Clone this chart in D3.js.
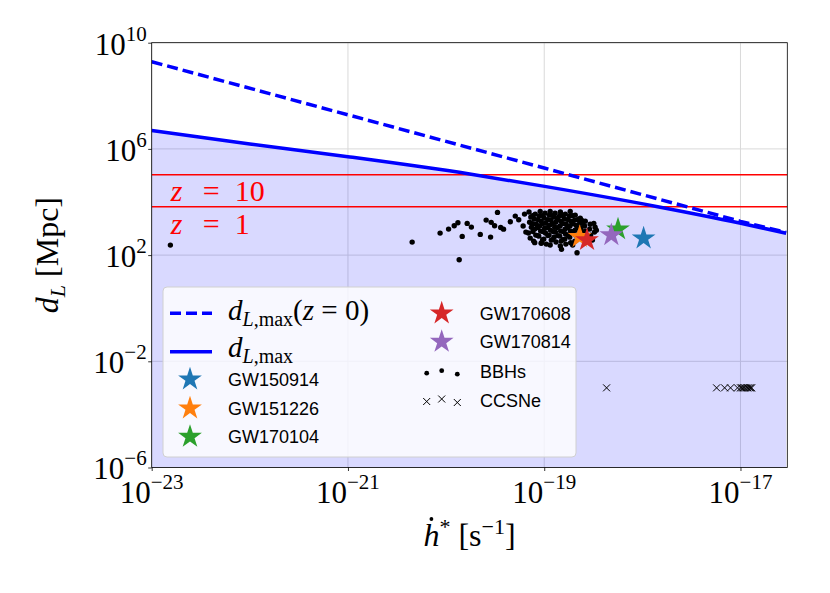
<!DOCTYPE html>
<html lang="en">
<head>
<meta charset="UTF-8">
<title>Luminosity distance vs strain rate</title>
<style>
    body{ margin:0; background:#fff; }
    .grid line{ stroke:#d9d9d9; stroke-width:1; }
    .axis path{ display:none; }
    .axis line{ stroke:#000; stroke-width:0.8; }
    .serif{ font-family:"Liberation Serif","Times New Roman",Times,"DejaVu Serif",serif; fill:#000; }
    .leg-text{ font-family:"Liberation Sans",Arial,sans-serif; font-size:18px; fill:#000; }
</style>
</head>
<body>
<svg width="830" height="593"></svg>
<script src="https://cdnjs.cloudflare.com/ajax/libs/d3/7.8.5/d3.min.js"></script>
<script>
// ticks
var xTicks = [1e-23, 1e-21, 1e-19, 1e-17];
var xTickExp = ["\u221223", "\u221221", "\u221219", "\u221217"];
var yTicks = [1e10, 1e6, 1e2, 1e-2, 1e-6];
var yTickExp = ["10", "6", "2", "\u22122", "\u22126"];

// d_L,max (solid) and d_L,max(z=0) (dashed)
var hdotMax = [1e-23, 1e-22, 1e-21, 1.74e-20, 1.01e-19, 1.39e-18, 9.8e-18, 2.92e-17];
var distMax = [4.93e6, 1.53e6, 5.08e5, 1.135e5, 3.87e4, 6820, 1620, 668];
var hdotMax0 = [1e-23, 1e-21, 1e-19, 1e-17, 2.92e-17];
var distMax0 = [1.92e9, 1.92e7, 1.9e5, 1.87e3, 720];

// redshift reference lines
var zValues = ["10", "1"];
var zDist = [1.07e5, 6.6e3];

// GW events
var eventNames = ["GW150914", "GW151226", "GW170104", "GW170608", "GW170814"];
var eventHdot = [1.03e-18, 2.30e-19, 5.65e-19, 2.73e-19, 4.83e-19];
var eventDist = [430, 490, 940, 370, 570];
var eventColors = ["#1f77b4", "#ff7f0e", "#2ca02c", "#d62728", "#9467bd"];

// simulated BBHs
var bbhHdot = [
    1.55e-23, 4.51e-21, 8.69e-21, 1.06e-20, 1.21e-20, 1.32e-20, 1.46e-20, 1.36e-20, 1.64e-20, 1.81e-20,
    2.23e-20, 2.56e-20, 2.84e-20, 2.88e-20, 3.12e-20, 3.34e-20, 3.60e-20, 3.85e-20, 4.51e-20, 5.07e-20,
    5.5e-20, 6.1e-20, 6.3e-20, 6.5e-20,
    7.0e-20, 7.3e-20, 7.1e-20, 7.4e-20, 6.9e-20, 7.2e-20,
    8.1e-20, 7.9e-20, 8.3e-20, 8.0e-20, 8.2e-20, 7.8e-20,
    9.1e-20, 8.9e-20, 9.3e-20, 9.0e-20, 9.2e-20, 8.8e-20, 9.4e-20,
    1.02e-19, 1.00e-19, 1.04e-19, 1.01e-19, 1.03e-19, 0.99e-19, 1.05e-19,
    1.15e-19, 1.13e-19, 1.17e-19, 1.14e-19, 1.16e-19, 1.12e-19, 1.18e-19, 1.15e-19,
    1.29e-19, 1.27e-19, 1.31e-19, 1.28e-19, 1.30e-19, 1.26e-19, 1.32e-19,
    1.46e-19, 1.43e-19, 1.48e-19, 1.45e-19, 1.47e-19, 1.44e-19, 1.49e-19, 1.46e-19,
    1.64e-19, 1.61e-19, 1.67e-19, 1.63e-19, 1.65e-19, 1.62e-19, 1.66e-19,
    1.84e-19, 1.81e-19, 1.87e-19, 1.83e-19, 1.85e-19, 1.82e-19, 1.86e-19,
    2.07e-19, 2.04e-19, 2.10e-19, 2.06e-19, 2.08e-19, 2.05e-19,
    2.33e-19, 2.30e-19, 2.36e-19, 2.32e-19, 2.34e-19,
    2.62e-19, 2.58e-19, 2.65e-19, 2.60e-19,
    2.94e-19, 2.90e-19, 2.97e-19,
    3.30e-19, 3.25e-19,
    8.0e-20, 9.3e-20, 1.50e-19, 2.16e-19, 1.95e-19, 3.2e-19, 3.4e-19, 3.1e-19, 2.40e-19,
    7.63e-20, 7.60e-20, 7.66e-20,
    8.59e-20, 8.55e-20, 8.62e-20,
    9.66e-20, 9.60e-20, 9.70e-20, 9.64e-20,
    1.087e-19, 1.08e-19, 1.09e-19,
    1.22e-19, 1.21e-19, 1.23e-19, 1.22e-19,
    1.37e-19, 1.36e-19, 1.38e-19,
    1.55e-19, 1.54e-19, 1.56e-19, 1.55e-19,
    1.74e-19, 1.73e-19, 1.75e-19,
    1.95e-19, 1.94e-19, 1.96e-19,
    2.19e-19, 2.18e-19, 2.20e-19,
    2.47e-19, 2.46e-19
];
var bbhDist = [
    238, 309, 675, 953, 1270, 1650, 506, 66.5, 1560, 1135,
    603, 2080, 476, 1710, 1270, 4060, 1090, 950, 1800, 2940,
    2150, 1240, 3500, 735,
    4200, 2700, 1720, 1120, 680, 437,
    3500, 2280, 1450, 953, 566, 337,
    4400, 2950, 1900, 1240, 800, 520, 290,
    3800, 2460, 1600, 1030, 680, 400, 260,
    4400, 3200, 2080, 1350, 870, 566, 367, 240,
    3800, 2700, 1720, 1120, 735, 475, 310,
    4200, 2950, 1900, 1240, 800, 520, 337, 220,
    3500, 2280, 1450, 953, 620, 400, 260,
    4400, 2950, 1900, 1240, 800, 475, 290,
    3200, 2080, 1350, 870, 566, 337,
    2460, 1600, 1030, 680, 437,
    1900, 1240, 800, 520,
    1450, 953, 566,
    1120, 735,
    295, 280, 165, 122, 240, 1570, 870, 370, 2080,
    3070, 1535, 767,
    2170, 1085, 542,
    3070, 1535, 767, 384,
    2170, 1085, 542,
    3070, 1535, 767, 384,
    2170, 1085, 542,
    3070, 1535, 767, 384,
    2170, 1085, 542,
    3070, 1535, 767,
    2170, 1085, 542,
    1535, 767
];

// galactic core-collapse supernovae
var ccsnHdot = [4.32e-19, 5.71e-18, 6.89e-18, 7.92e-18, 9.33e-18, 1.00e-17, 1.03e-17,
                1.07e-17, 1.10e-17, 1.15e-17, 1.19e-17, 1.24e-17, 1.27e-17, 1.30e-17];
var ccsnDist = [1e-3, 1e-3, 1e-3, 1e-3, 1e-3, 1e-3, 1e-3, 1e-3, 1e-3, 1e-3, 1e-3, 1e-3, 1e-3, 1e-3];

var svg = d3.select("svg"),
    margin = {top:42.7, right:42.7, bottom:125.5, left:151.7},
    width = +svg.attr("width") - margin.left - margin.right,
    height = +svg.attr("height") - margin.top - margin.bottom;

var x = d3.scaleLog().domain([1e-23, 3e-17]).range([0, width]);
var y = d3.scaleLog().domain([1e-6, 1e10]).range([height, 0]);

var g = svg.append("g").attr("transform", "translate(" + margin.left + "," + margin.top + ")");
g.append("clipPath").attr("id", "clip").append("rect").attr("width", width).attr("height", height);

// grid
g.append("g").attr("class", "grid").selectAll("line").data(xTicks).enter().append("line")
    .attr("x1", function(d){ return x(d); }).attr("x2", function(d){ return x(d); })
    .attr("y1", 0).attr("y2", height);
g.append("g").attr("class", "grid").selectAll("line").data(yTicks).enter().append("line")
    .attr("x1", 0).attr("x2", width)
    .attr("y1", function(d){ return y(d); }).attr("y2", function(d){ return y(d); });

var plot = g.append("g").attr("clip-path", "url(#clip)");

var maxPts = hdotMax.map(function(h, i){ return {h:h, d:distMax[i]}; });
var maxPts0 = hdotMax0.map(function(h, i){ return {h:h, d:distMax0[i]}; });

// shaded detectable region
plot.append("path").datum(maxPts)
    .attr("fill", "blue").attr("fill-opacity", 0.15)
    .attr("d", d3.area().x(function(d){ return x(d.h); }).y0(height)
        .y1(function(d){ return y(d.d); }).curve(d3.curveMonotoneX));

// redshift lines
plot.selectAll(".zline").data(zDist).enter().append("line")
    .attr("x1", 0).attr("x2", width)
    .attr("y1", function(d){ return y(d); }).attr("y2", function(d){ return y(d); })
    .attr("stroke", "#ff0000").attr("stroke-width", 1.5);

var line = d3.line().x(function(d){ return x(d.h); }).y(function(d){ return y(d.d); });
plot.append("path").datum(maxPts0).attr("d", line)
    .attr("fill", "none").attr("stroke", "#0000ff").attr("stroke-width", 3.5)
    .attr("stroke-dasharray", "11,5");
plot.append("path").datum(maxPts).attr("d", line.curve(d3.curveMonotoneX))
    .attr("fill", "none").attr("stroke", "#0000ff").attr("stroke-width", 3.5);

// BBHs
plot.selectAll(".bbh").data(bbhHdot).enter().append("circle")
    .attr("cx", function(d){ return x(d); })
    .attr("cy", function(d, i){ return y(bbhDist[i]); })
    .attr("r", 2.7).attr("fill", "#000");

// CCSNe
var cross = "M-3.5,-3.5L3.5,3.5M-3.5,3.5L3.5,-3.5";
plot.selectAll(".ccsn").data(ccsnHdot).enter().append("path")
    .attr("d", cross)
    .attr("transform", function(d, i){ return "translate(" + x(d) + "," + y(ccsnDist[i]) + ")"; })
    .attr("stroke", "#000").attr("stroke-width", 1).attr("fill", "none");

// GW events
var star = d3.symbol().type(d3.symbolStar).size(175);
plot.selectAll(".event").data(eventNames).enter().append("path")
    .attr("d", star)
    .attr("transform", function(d, i){ return "translate(" + x(eventHdot[i]) + "," + y(eventDist[i]) + ")"; })
    .attr("fill", function(d, i){ return eventColors[i]; });

// z labels, sitting just under their lines
g.selectAll(".zlab").data(zValues).enter().append("text")
    .attr("class", "serif").attr("font-size", 30).attr("fill", "#ff0000")
    .attr("y", function(d, i){ return y(zDist[i]) + (i == 0 ? 26 : 27.5); })
    .each(function(d){
        var t = d3.select(this);
        t.append("tspan").attr("x", 19).attr("font-style", "italic").attr("fill", "#ff0000").text("z");
        t.append("tspan").attr("x", 51).attr("fill", "#ff0000").text("=");
        t.append("tspan").attr("x", 83).attr("fill", "#ff0000").text(d);
    });

// frame
g.append("rect").attr("width", width).attr("height", height)
    .attr("fill", "none").attr("stroke", "#000").attr("stroke-width", 0.8);

// axes
g.append("g").attr("class", "axis").attr("transform", "translate(0," + height + ")")
    .call(d3.axisBottom(x).tickValues(xTicks).tickSize(3.5).tickFormat(function(){ return ""; }));
g.append("g").attr("class", "axis")
    .call(d3.axisLeft(y).tickValues(yTicks).tickSize(3.5).tickFormat(function(){ return ""; }));

g.selectAll(".xlab").data(xTicks).enter().append("text")
    .attr("class", "serif").attr("text-anchor", "middle")
    .attr("x", function(d){ return x(d); }).attr("y", height + 35.5)
    .each(function(d, i){
        var t = d3.select(this);
        t.append("tspan").attr("font-size", 31).text("10");
        t.append("tspan").attr("font-size", 21).attr("dy", -14).text(xTickExp[i]);
    });
g.selectAll(".ylab").data(yTicks).enter().append("text")
    .attr("class", "serif").attr("text-anchor", "end")
    .attr("x", -5).attr("y", function(d){ return y(d) + 12; })
    .each(function(d, i){
        var t = d3.select(this);
        t.append("tspan").attr("font-size", 31).text("10");
        t.append("tspan").attr("font-size", 21).attr("dy", -14).text(yTickExp[i]);
    });

// axis titles
var xt = svg.append("text").attr("class", "serif").attr("text-anchor", "middle")
    .attr("x", margin.left + width / 2).attr("y", 546).attr("font-size", 32);
xt.append("tspan").attr("font-style", "italic").text("h");
xt.append("tspan").attr("font-size", 22).attr("dy", -12).text("*");
xt.append("tspan").attr("dy", 12).text(" [s");
xt.append("tspan").attr("font-size", 22).attr("dy", -12).text("\u22121");
xt.append("tspan").attr("dy", 12).text("]");
// dot accent above the h
var hPos = xt.node().getStartPositionOfChar(0);
svg.append("circle").attr("cx", hPos.x + 8).attr("cy", hPos.y - 27).attr("r", 1.9).attr("fill", "#000");

var yt = svg.append("text").attr("class", "serif").attr("text-anchor", "middle")
    .attr("transform", "translate(58," + (margin.top + height / 2) + ") rotate(-90)")
    .attr("font-size", 32);
yt.append("tspan").attr("font-style", "italic").text("d");
yt.append("tspan").attr("font-size", 22).attr("font-style", "italic").attr("dy", 7).text("L");
yt.append("tspan").attr("dy", -7).text(" [Mpc]");

// legend
var leg = svg.append("g");
leg.append("rect").attr("x", 163).attr("y", 287).attr("width", 413).attr("height", 170)
    .attr("rx", 4).attr("fill", "#fff").attr("fill-opacity", 0.8)
    .attr("stroke", "#d0d0d0").attr("stroke-width", 1);

function dLabel(t, withZ){
    t.append("tspan").attr("font-style", "italic").text("d");
    t.append("tspan").attr("font-size", 20).attr("font-style", "italic").attr("dy", 6).text("L");
    t.append("tspan").attr("font-size", 20).text(",max");
    if (withZ) {
        t.append("tspan").attr("dy", -6).text("(");
        t.append("tspan").attr("font-style", "italic").text("z");
        t.append("tspan").text(" = 0)");
    }
}
leg.append("line").attr("x1", 170).attr("x2", 212).attr("y1", 313.3).attr("y2", 313.3)
    .attr("stroke", "#0000ff").attr("stroke-width", 3.5).attr("stroke-dasharray", "11,5");
dLabel(leg.append("text").attr("class", "serif").attr("font-size", 29).attr("x", 228).attr("y", 320), true);
leg.append("line").attr("x1", 170).attr("x2", 212).attr("y1", 351.7).attr("y2", 351.7)
    .attr("stroke", "#0000ff").attr("stroke-width", 3.5);
dLabel(leg.append("text").attr("class", "serif").attr("font-size", 29).attr("x", 228).attr("y", 357), false);

var legRows = [
    {x:190, y:379.3}, {x:190, y:408.3}, {x:190, y:436.7},
    {x:441.7, y:313.3}, {x:441.7, y:341.7}
];
eventNames.forEach(function(name, i){
    leg.append("path").attr("d", star)
        .attr("transform", "translate(" + legRows[i].x + "," + legRows[i].y + ")")
        .attr("fill", eventColors[i]);
    leg.append("text").attr("class", "leg-text")
        .attr("x", legRows[i].x + 38).attr("y", legRows[i].y + 6.5).text(name);
});

var scatterOff = [{dx:-15, dy:1.5}, {dx:0, dy:-1}, {dx:15.6, dy:2.5}];
scatterOff.forEach(function(o){
    leg.append("circle").attr("cx", 441.7 + o.dx).attr("cy", 371.7 + o.dy)
        .attr("r", 2.4).attr("fill", "#000");
    leg.append("path").attr("d", cross)
        .attr("transform", "translate(" + (441.7 + o.dx) + "," + (400 + o.dy) + ")")
        .attr("stroke", "#000").attr("stroke-width", 1).attr("fill", "none");
});
leg.append("text").attr("class", "leg-text").attr("x", 480).attr("y", 378.2).text("BBHs");
leg.append("text").attr("class", "leg-text").attr("x", 480).attr("y", 406.5).text("CCSNe");
</script>
</body>
</html>
